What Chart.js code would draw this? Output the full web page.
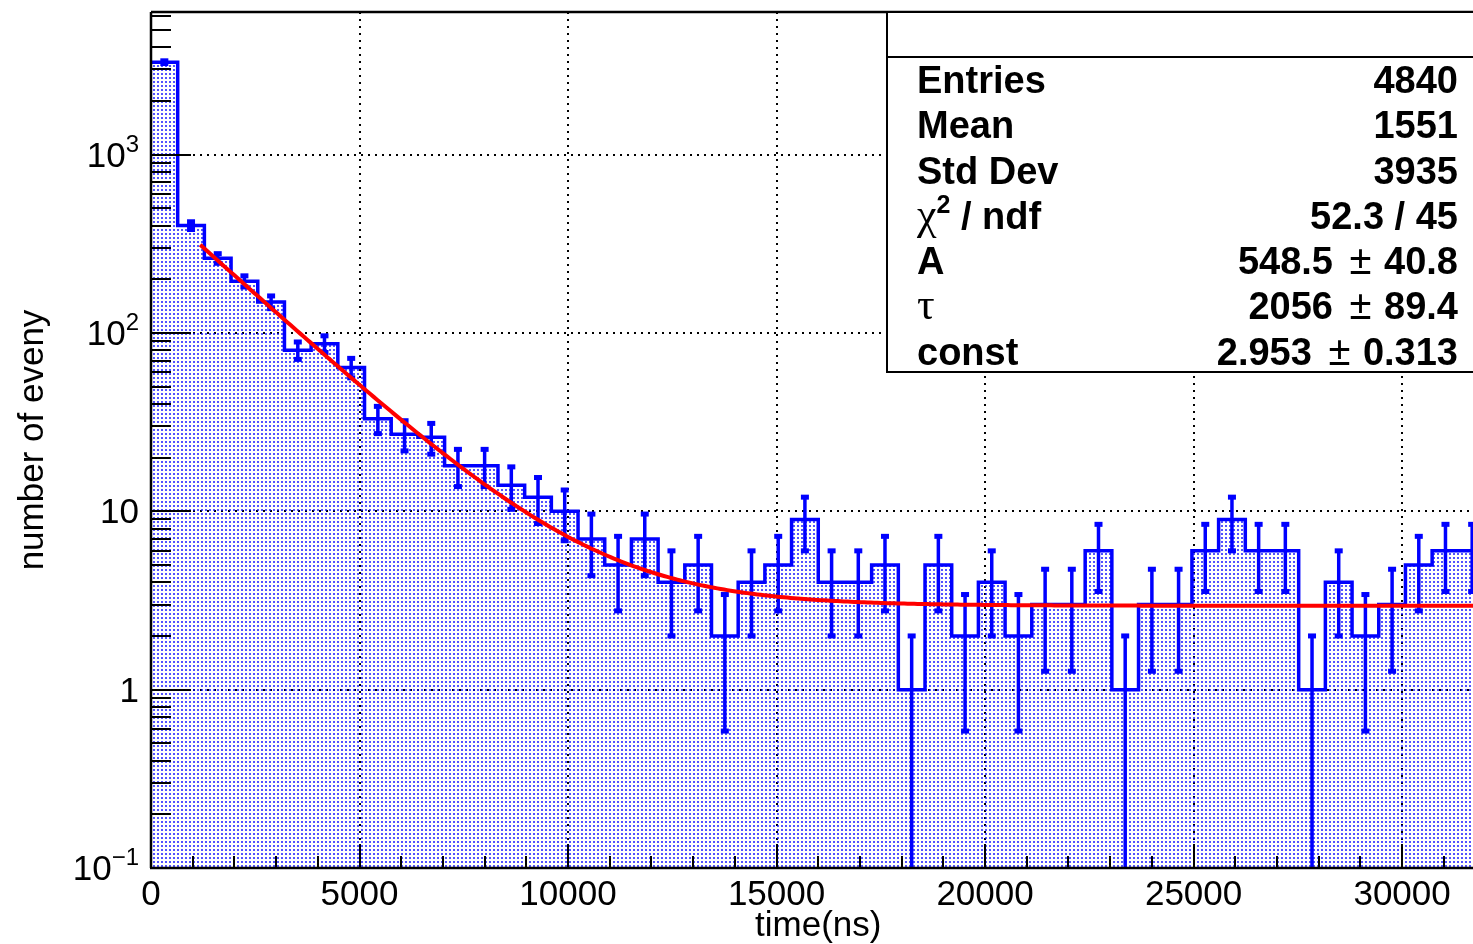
<!DOCTYPE html>
<html>
<head>
<meta charset="utf-8">
<title>time(ns)</title>
<script src="https://cdn.jsdelivr.net/npm/chart.js@4.4.1/dist/chart.umd.min.js"></script>
<style>
  html, body { margin: 0; padding: 0; background: #fff; }
  canvas { display: block; }
</style>
</head>
<body>
<canvas id="hist" width="1473" height="944"></canvas>
<script>
// decay-time histogram, 50 bins of 640 ns
const binWidth = 640;
const counts = [3297, 400, 262, 195, 149, 80, 87, 64, 33, 27,
                26, 18, 18, 14, 12, 10, 7, 5, 7, 4,
                5, 2, 4, 5, 9, 4, 4, 5, 1, 5,
                2, 4, 2, 3, 3, 6, 1, 3, 3, 6,
                9, 6, 6, 1, 4, 2, 3, 5, 6, 6];

// fit: A*exp(-t/tau) + const
const fitA = 548.5;
const fitTau = 2056;
const fitConst = 2.953;
const fitStart = 1180;
const fitEnd = 32000;

// axes
const xMin = 0, xMax = 31700;
const yMin = 0.1, yMax = 6300;
const xTickValues = [0, 5000, 10000, 15000, 20000, 25000, 30000];
const xTickLabels = ['0', '5000', '10000', '15000', '20000', '25000', '30000'];
const yTickValues = [0.1, 1, 10, 100, 1000];
const yTickLabels = ['10^{−1}', '1', '10', '10^{2}', '10^{3}'];
const xTitle = 'time(ns)';
const yTitle = 'number of eveny';

// stats box
const statNames = ['Entries', 'Mean', 'Std Dev', '#chi^{2} / ndf', 'A', '#tau', 'const'];
const statValues = ['4840', '1551', '3935', '52.3 / 45', '548.5 #pm 40.8', '2056 #pm 89.4', '2.953 #pm 0.313'];

const SANS = "'Liberation Sans', Arial, Helvetica, sans-serif";
const SERIF = "'Liberation Serif', 'Times New Roman', serif";

// histogram outline: one point per left bin edge plus the closing edge
const histPoints = counts.map((c, i) => ({ x: i * binWidth, y: c }));
histPoints.push({ x: counts.length * binWidth, y: counts[counts.length - 1] });

const fitPoints = [];
for (let t = fitStart; t <= fitEnd; t += 80) {
  fitPoints.push({ x: t, y: fitA * Math.exp(-t / fitTau) + fitConst });
}

// dotted fill like ROOT's pattern style
function dotPattern() {
  const c = document.createElement('canvas');
  c.width = 4; c.height = 4;
  const g = c.getContext('2d');
  g.fillStyle = 'rgba(0, 0, 255, 0.68)';
  g.fillRect(1, 1, 2, 2);
  return g.createPattern(c, 'repeat');
}

function line(ctx, x1, y1, x2, y2) {
  ctx.beginPath();
  ctx.moveTo(x1, y1);
  ctx.lineTo(x2, y2);
  ctx.stroke();
}

// split ROOT style markup (#chi, #tau, #pm, ^{..}) into text runs
function runs(str) {
  const out = [];
  const re = /#chi|#tau|#pm|\^\{([^}]*)\}/g;
  let last = 0, m;
  while ((m = re.exec(str))) {
    if (m.index > last) out.push({ t: str.slice(last, m.index), k: 'b' });
    if (m[0] === '#chi') out.push({ t: 'χ', k: 'g' });
    else if (m[0] === '#tau') out.push({ t: 'τ', k: 'g' });
    else if (m[0] === '#pm') out.push({ t: '±', k: 'n' });
    else out.push({ t: m[1], k: 's' });
    last = re.lastIndex;
  }
  if (last < str.length) out.push({ t: str.slice(last), k: 'b' });
  return out;
}

const statFonts = {
  b: 'bold 38px ' + SANS,
  n: '40px ' + SANS,
  g: '44px ' + SERIF,
  s: 'bold 25px ' + SANS
};

function drawRuns(ctx, str, x, y, alignRight) {
  const parts = runs(str);
  let w = 0;
  parts.forEach(p => {
    ctx.font = statFonts[p.k];
    p.w = ctx.measureText(p.t).width + (p.k === 'n' ? 8 : 0);
    w += p.w;
  });
  let cx = alignRight ? x - w : x;
  ctx.textAlign = 'left';
  parts.forEach(p => {
    ctx.font = statFonts[p.k];
    ctx.fillText(p.t, p.k === 'n' ? cx + 6 : cx, p.k === 's' ? y - 16 : y);
    cx += p.w;
  });
}

// "10^{n}" tick labels, right aligned
function drawPowerLabel(ctx, label, right, y) {
  const m = label.match(/^([^^]*)(?:\^\{([^}]*)\})?$/);
  const base = m[1], exp = m[2];
  ctx.textAlign = 'left';
  ctx.font = '35px ' + SANS;
  const wb = ctx.measureText(base).width;
  let we = 0;
  if (exp) {
    ctx.font = '24px ' + SANS;
    we = ctx.measureText(exp).width;
  }
  ctx.font = '35px ' + SANS;
  ctx.fillText(base, right - wb - we, y + 12);
  if (exp) {
    ctx.font = '24px ' + SANS;
    ctx.fillText(exp, right - we, y - 3);
  }
}

const rootFrame = {
  id: 'rootFrame',
  beforeDatasetsDraw(chart) {
    const { ctx, chartArea: a, scales: { x, y } } = chart;
    ctx.save();
    ctx.strokeStyle = '#000';
    ctx.lineWidth = 2;
    ctx.setLineDash([2, 5]);
    xTickValues.forEach(v => {
      if (v === xMin) return;
      const px = Math.round(x.getPixelForValue(v));
      line(ctx, px, a.bottom, px, a.top);
    });
    yTickValues.forEach(v => {
      if (v === yMin) return;
      const py = Math.round(y.getPixelForValue(v));
      line(ctx, a.left, py, a.right, py);
    });
    ctx.restore();
  },
  afterDatasetDraw(chart, args) {
    if (args.index !== 1) return;
    const { ctx, chartArea: a, scales: { x, y } } = chart;
    ctx.save();
    ctx.beginPath();
    ctx.rect(a.left, a.top, a.right - a.left, a.bottom - a.top);
    ctx.clip();
    ctx.strokeStyle = '#0000ff';
    ctx.fillStyle = '#0000ff';
    ctx.lineWidth = 3.5;
    counts.forEach((c, i) => {
      const err = Math.sqrt(c);
      const px = x.getPixelForValue((i + 0.5) * binWidth);
      const pyHi = y.getPixelForValue(c + err);
      const lo = c - err;
      const pyLo = lo > yMin ? y.getPixelForValue(lo) : a.bottom + 2;
      line(ctx, px, pyHi, px, pyLo);
      ctx.fillRect(px - 4, pyHi - 2.5, 8, 5);
      if (lo > yMin) ctx.fillRect(px - 4, pyLo - 2.5, 8, 5);
    });
    ctx.restore();
  },
  afterDraw(chart) {
    const { ctx, chartArea: a, scales: { x, y } } = chart;
    ctx.save();
    ctx.strokeStyle = '#000';
    ctx.fillStyle = '#000';

    // frame
    ctx.lineWidth = 2.5;
    line(ctx, a.left, a.top, a.left, a.bottom);
    line(ctx, a.left - 1, a.bottom, a.right, a.bottom);
    line(ctx, a.left, a.top, a.right, a.top);

    // x ticks, drawn inward
    ctx.lineWidth = 2;
    for (let v = 1000; v < xMax; v += 1000) {
      const px = Math.round(x.getPixelForValue(v));
      line(ctx, px, a.bottom, px, a.bottom - (v % 5000 === 0 ? 24 : 12));
    }
    // y ticks: decades long, 2..9 short
    for (let d = -1; d <= 3; d++) {
      for (let k = 1; k <= 9; k++) {
        const v = k * Math.pow(10, d);
        if (v <= yMin || v > yMax) continue;
        const py = Math.round(y.getPixelForValue(v));
        line(ctx, a.left, py, a.left + (k === 1 ? 40 : 20), py);
      }
    }

    // tick labels
    ctx.font = '35px ' + SANS;
    ctx.textAlign = 'center';
    ctx.textBaseline = 'alphabetic';
    xTickValues.forEach((v, i) => {
      ctx.fillText(xTickLabels[i], x.getPixelForValue(v), a.bottom + 37);
    });
    yTickValues.forEach((v, i) => {
      drawPowerLabel(ctx, yTickLabels[i], 139, y.getPixelForValue(v));
    });

    // axis titles
    ctx.font = '35px ' + SANS;
    ctx.textAlign = 'center';
    ctx.fillText(xTitle, x.getPixelForValue(counts.length * binWidth / 2), a.bottom + 68);
    ctx.save();
    ctx.translate(43, (a.top + a.bottom) / 2);
    ctx.rotate(-Math.PI / 2);
    ctx.fillText(yTitle, 0, 0);
    ctx.restore();

    // stats box
    const bx = 887, by = a.top, bw = 620, bh = 360;
    ctx.fillStyle = '#fff';
    ctx.fillRect(bx, by, bw, bh);
    ctx.lineWidth = 2;
    ctx.strokeRect(bx, by, bw, bh);
    line(ctx, bx, 57, bx + bw, 57);
    ctx.fillStyle = '#000';
    statNames.forEach((name, i) => {
      const base = 93 + i * 45.25;
      drawRuns(ctx, name, 917, base, false);
      drawRuns(ctx, statValues[i], 1458, base, true);
    });
    ctx.restore();
  }
};

const ctx = document.getElementById('hist').getContext('2d');
new Chart(ctx, {
  type: 'line',
  data: {
    datasets: [
      {
        label: 'fit',
        data: fitPoints,
        borderColor: '#ff0000',
        borderWidth: 4,
        pointRadius: 0,
        fill: false,
        tension: 0
      },
      {
        label: 'time',
        data: histPoints,
        borderColor: '#0000ff',
        borderWidth: 3.5,
        backgroundColor: dotPattern(),
        pointRadius: 0,
        stepped: true,
        fill: 'start'
      }
    ]
  },
  options: {
    responsive: false,
    animation: false,
    layout: { padding: { left: 151, right: 0, top: 12, bottom: 76 } },
    scales: {
      x: { type: 'linear', min: xMin, max: xMax, display: false },
      y: { type: 'logarithmic', min: yMin, max: yMax, display: false }
    },
    plugins: {
      legend: { display: false },
      tooltip: { enabled: false }
    }
  },
  plugins: [rootFrame]
});
</script>
</body>
</html>
